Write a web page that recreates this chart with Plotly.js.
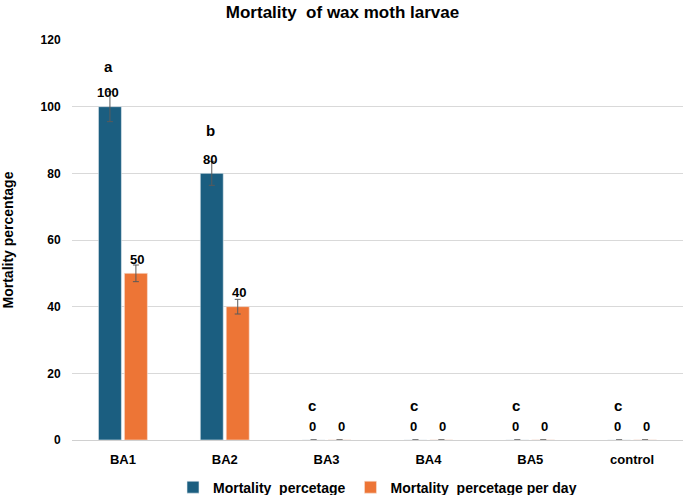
<!DOCTYPE html>
<html>
<head>
<meta charset="utf-8">
<script src="https://cdn.plot.ly/plotly-3.0.1.min.js"></script>
<style>
  html, body { margin: 0; padding: 0; background: #fff; }
  #chart-container { width: 685px; height: 495px; }
</style>
</head>
<body>
<div id="chart-container"></div>
<script>
const categories = ['BA1', 'BA2', 'BA3', 'BA4', 'BA5', 'control']
const mortality = [100, 80, 0, 0, 0, 0]
const mortalityErr = [4.5, 3.6, 0, 0, 0, 0]
const perDay = [50, 40, 0, 0, 0, 0]
const perDayErr = [2.5, 2.2, 0, 0, 0, 0]
const letters = ['a', 'b', 'c', 'c', 'c', 'c']
const letterY = [112, 93, 10.5, 10.5, 10.5, 10.5]
const yTicks = [0, 20, 40, 60, 80, 100, 120]

const font = 'Liberation Sans, Arial, sans-serif'
const blue = '#1B5E80'
const orange = '#ED7536'

let data = [
    {
        x: categories,
        y: mortality,
        type: 'bar',
        name: 'Mortality  percetage',
        marker: { color: blue, line: { color: '#e8eef2', width: 0.6 } },
        error_y: { type: 'data', array: mortalityErr, visible: true, color: '#5a5a5a', thickness: 1, width: 3 },
        hoverinfo: 'y'
    },
    {
        x: categories,
        y: perDay,
        type: 'bar',
        name: 'Mortality  percetage per day',
        marker: { color: orange, line: { color: '#f6e2d6', width: 0.6 } },
        error_y: { type: 'data', array: perDayErr, visible: true, color: '#5a5a5a', thickness: 1, width: 3 },
        hoverinfo: 'y'
    }
]

// value labels above the bars and significance letters
let annotations = []
categories.forEach((c, i) => {
    annotations.push({ x: c, y: mortality[i], xshift: -14.5, yshift: 14, text: String(mortality[i]),
        showarrow: false, font: { family: font, size: 13, color: '#000', weight: 'bold' } })
    annotations.push({ x: c, y: perDay[i], xshift: 14.5, yshift: 14, text: String(perDay[i]),
        showarrow: false, font: { family: font, size: 13, color: '#000', weight: 'bold' } })
    annotations.push({ x: c, y: letterY[i], xshift: -14.5, text: letters[i],
        showarrow: false, font: { family: font, size: 15, color: '#000', weight: 'bold' } })
})

let layout = {
    width: 685,
    height: 495,
    margin: { l: 72, r: 2, t: 40, b: 55, autoexpand: false },
    paper_bgcolor: '#fff',
    plot_bgcolor: '#fff',
    font: { family: font, color: '#000' },
    title: {
        text: '<b>Mortality  of wax moth larvae</b>',
        font: { family: font, size: 17, color: '#000' },
        x: 0.5, xanchor: 'center', y: 0.975, yanchor: 'middle'
    },
    barmode: 'group',
    bargap: 0.49,
    bargroupgap: 0.115,
    xaxis: {
        type: 'category',
        showline: true,
        linecolor: '#d0d0d0',
        linewidth: 1,
        ticks: 'outside',
        ticklen: 7,
        tickcolor: 'rgba(0,0,0,0)',
        tickfont: { family: font, size: 13, color: '#000', weight: 'bold' },
        fixedrange: true
    },
    yaxis: {
        range: [0, 120],
        tickvals: yTicks,
        showgrid: true,
        gridcolor: '#d9d9d9',
        zeroline: false,
        ticks: 'outside',
        ticklen: 8,
        tickcolor: 'rgba(0,0,0,0)',
        tickfont: { family: font, size: 12, color: '#000', weight: 'bold' },
        title: {
            text: '<b>Mortality percentage</b>',
            font: { family: font, size: 14, color: '#000' },
            standoff: 24
        },
        fixedrange: true
    },
    showlegend: true,
    legend: {
        orientation: 'h',
        x: 0.5, xanchor: 'center',
        yref: 'container',
        y: 0.015, yanchor: 'middle',
        font: { family: font, size: 14, color: '#000', weight: 'bold' },
        itemwidth: 30,
        traceorder: 'normal'
    },
    annotations: annotations
}

Plotly.newPlot('chart-container', data, layout, { displayModeBar: false, staticPlot: true })
</script>
</body>
</html>
